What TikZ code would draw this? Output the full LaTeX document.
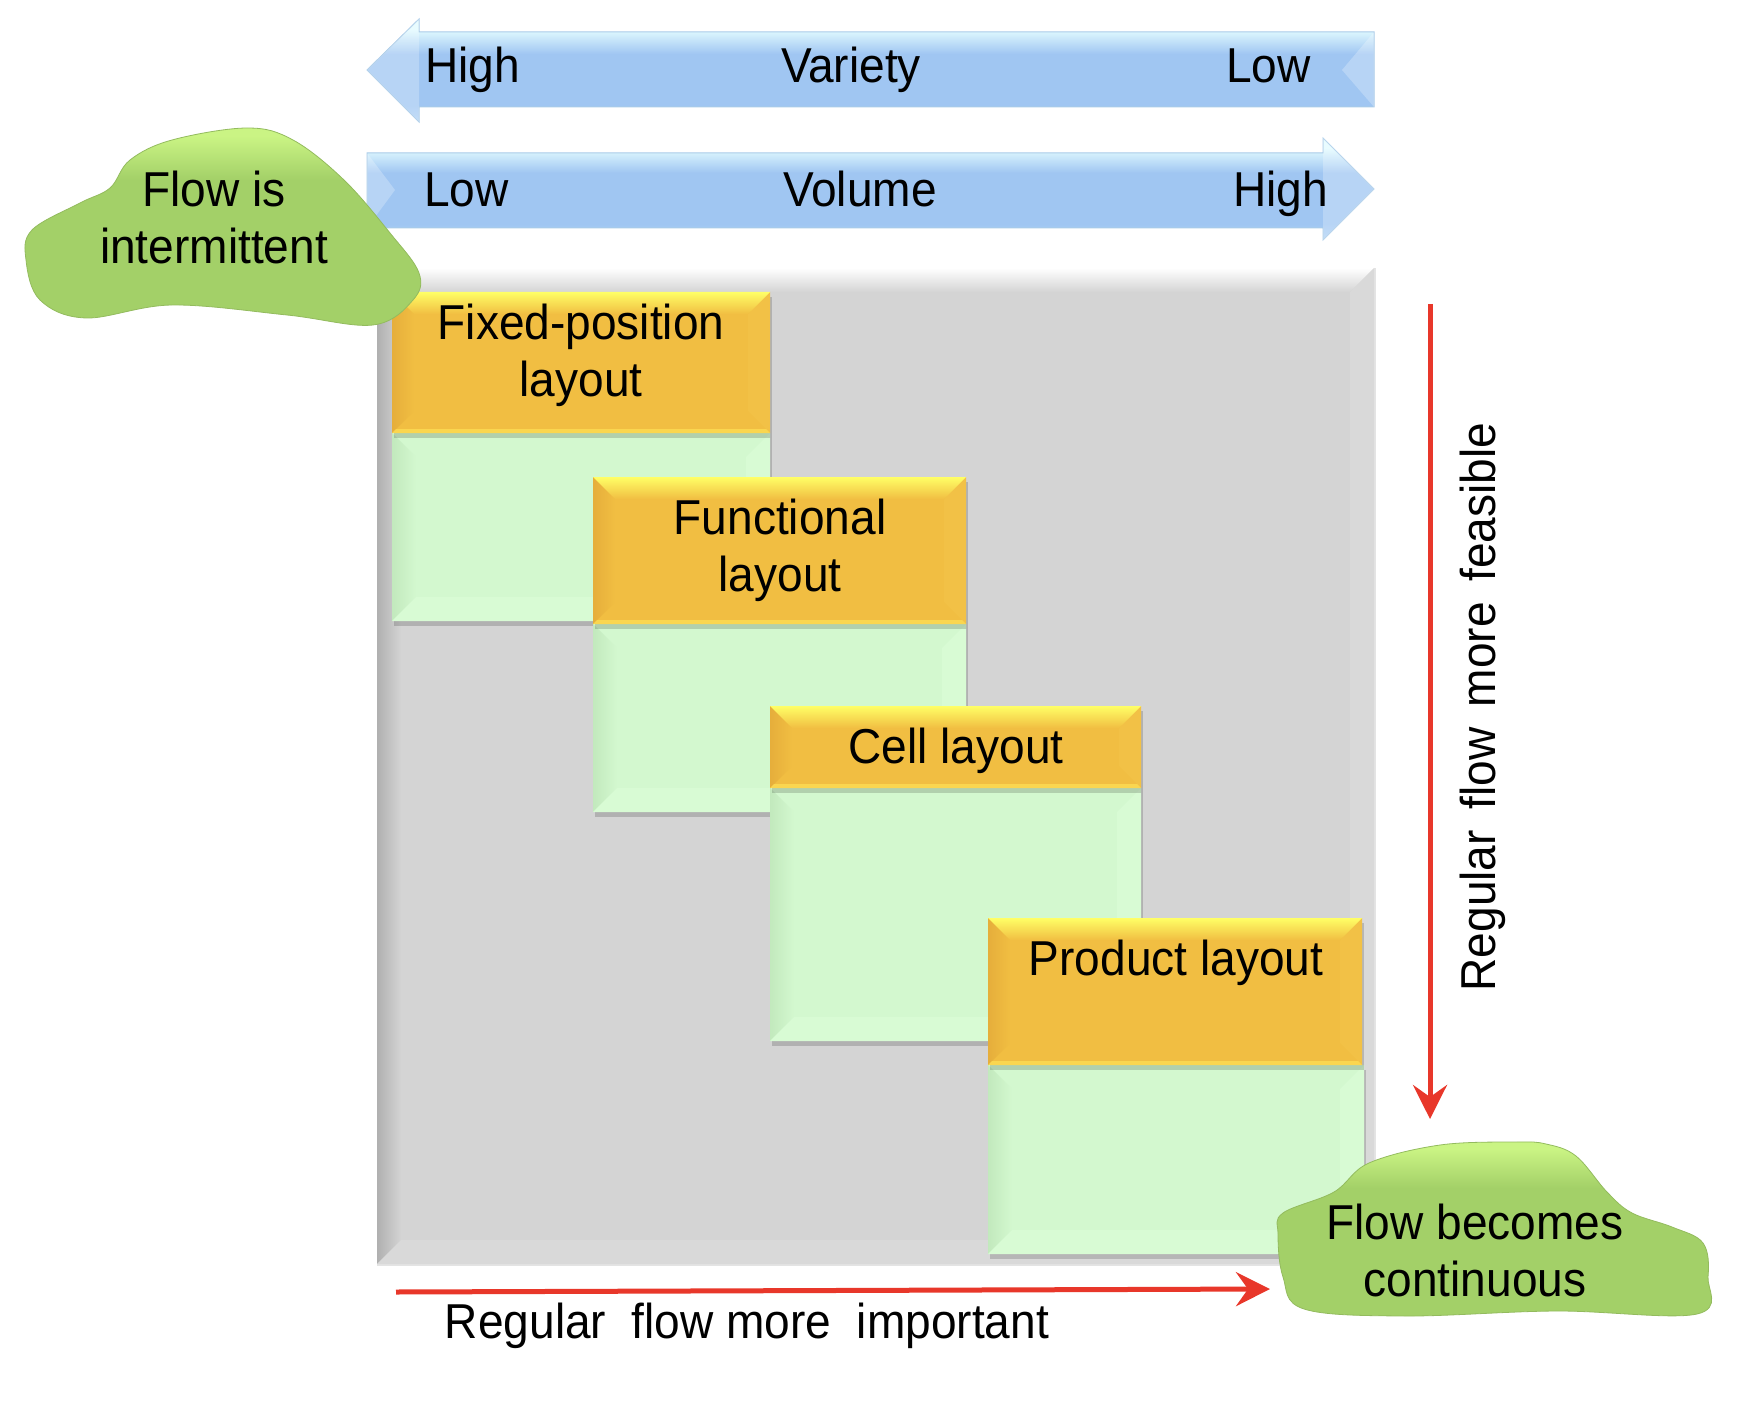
\documentclass[tikz,border=0pt]{standalone}
\usepackage{fontspec}
\setmainfont{Liberation Sans}[FakeStretch=0.94]
\usetikzlibrary{arrows.meta,shadows}
\definecolor{arrT}{HTML}{E2FBFF}
\definecolor{arrM}{HTML}{A0C6F2}
\definecolor{arrB}{HTML}{B0D3F6}
\definecolor{arrEdge}{HTML}{A9CBE8}
\definecolor{grayMain}{HTML}{D4D4D4}
\definecolor{grayDark}{HTML}{B0B0B0}
\definecolor{grayLight}{HTML}{D9D9D9}
\definecolor{grayEdge}{HTML}{E4E4E4}
\definecolor{ornMain}{HTML}{F1BE42}
\definecolor{ornTop}{HTML}{FFFF66}
\definecolor{ornLeft}{HTML}{E6AE3B}
\definecolor{ornRight}{HTML}{F2C146}
\definecolor{ornBot}{HTML}{FAD650}
\definecolor{grnMain}{HTML}{D3F8CF}
\definecolor{grnLeft}{HTML}{C2E9BD}
\definecolor{grnLight}{HTML}{D8FBD4}
\definecolor{cloudTop}{HTML}{CAF484}
\definecolor{cloudMain}{HTML}{A3D068}
\definecolor{redC}{HTML}{E8372A}
\pgfdeclareverticalshading{blueband}{100bp}{color(0bp)=(arrB); color(25bp)=(arrB); color(33bp)=(arrM); color(58bp)=(arrM); color(70bp)=(arrT); color(75bp)=(arrT); color(100bp)=(arrT)}
\pgfdeclareverticalshading{cloudband}{100bp}{color(0bp)=(cloudMain); color(25bp)=(cloudMain); color(62bp)=(cloudMain); color(73bp)=(cloudTop); color(100bp)=(cloudTop)}
\newcommand\orangebevel[4]{%
  \shade[left color=ornLeft, right color=ornMain] (#1,#2) -- (#1+22,#2+22) -- (#1+22,#4-22) -- (#1,#4) -- cycle;
  \fill[ornRight] (#3,#2) -- (#3-22,#2+22) -- (#3-22,#4-22) -- (#3,#4) -- cycle;
  \shade[top color=ornTop, bottom color=ornMain] (#1,#2) -- (#3,#2) -- (#3-22,#2+22) -- (#1+22,#2+22) -- cycle;
  \fill[ornBot] (#1,#4) -- (#1+4,#4-4) -- (#3-4,#4-4) -- (#3,#4) -- cycle;
}
\newcommand\greenbevel[4]{%
  \shade[left color=grnLeft, right color=grnMain] (#1,#2) -- (#1+24,#2+24) -- (#1+24,#4-24) -- (#1,#4) -- cycle;
  \fill[grnLight] (#3,#2) -- (#3-24,#2+24) -- (#3-24,#4-24) -- (#3,#4) -- cycle;
  \fill[grnLight] (#1,#4) -- (#1+24,#4-24) -- (#3-24,#4-24) -- (#3,#4) -- cycle;
}
\begin{document}
\begin{tikzpicture}[x=1pt,y=-1pt,
  lbl/.style={font=\fontsize{49}{57}\selectfont, align=center, inner sep=0pt, text=black},
  graybox/.style={fill=grayMain, draw=grayEdge, line width=1.5pt, anchor=north west, inner sep=0pt},
  hdr/.style={fill=ornMain, draw=none, anchor=north west, inner sep=0pt,
    drop shadow={shadow xshift=2pt, shadow yshift=-5pt, opacity=0.16, fill=black}},
  body/.style={fill=grnMain, draw=none, anchor=north west, inner sep=0pt,
    drop shadow={shadow xshift=2pt, shadow yshift=-5pt, opacity=0.16, fill=black}},
  bluearrow/.style={shading=blueband, draw=arrEdge, line width=1pt},
  cloudshape/.style={shading=cloudband, draw=cloudMain!90!black, line width=0.8pt},
  redarrow/.style={draw=redC, line width=5pt, -{Stealth[length=34pt, width=34pt, inset=12pt]}}
]
\useasboundingbox (0,0) rectangle (1740,1404);

% ---------- blue axis arrows ----------
\shade[bluearrow] (367,70) -- (419,19) -- (419,32) -- (1374,32) -- (1374,107) -- (419,107) -- (419,122) -- cycle;
\fill[white, opacity=0.25] (1374,32) -- (1342,70) -- (1374,107) -- cycle;
\fill[white, opacity=0.25] (367,70) -- (419,19) -- (419,122) -- cycle;
\shade[bluearrow] (367,153) -- (1323,153) -- (1323,138) -- (1374,189) -- (1323,240) -- (1323,228) -- (367,228) -- cycle;
\fill[white, opacity=0.25] (367,153) -- (395,190) -- (367,228) -- cycle;
\fill[white, opacity=0.25] (1323,138) -- (1374,189) -- (1323,240) -- cycle;

\node[lbl, anchor=base west] (hiV) at (425,83) {High};
\node[lbl, anchor=base] (variety) at (851,83) {Variety};
\node[lbl, anchor=base east] (loV) at (1311,83) {Low};
\node[lbl, anchor=base west] (loVol) at (424,207) {Low};
\node[lbl, anchor=base] (volume) at (860,207) {Volume};
\node[lbl, anchor=base east] (hiVol) at (1328,207) {High};

% ---------- gray field ----------
\node[graybox, minimum width=997pt, minimum height=996pt] (grid) at (377,268) {};
\shade[top color=white, bottom color=grayMain] (377,268) -- (1374,268) -- (1350,292) -- (401,292) -- cycle;
\shade[left color=grayDark, right color=grayMain] (377,268) -- (401,292) -- (401,1240) -- (377,1264) -- cycle;
\fill[grayLight] (1374,268) -- (1350,292) -- (1350,1240) -- (1374,1264) -- cycle;
\fill[grayLight] (377,1264) -- (401,1240) -- (1350,1240) -- (1374,1264) -- cycle;

% ---------- layout boxes ----------
\node[body, minimum width=378pt, minimum height=188pt] (fixG) at (392,433) {};
\greenbevel{392}{433}{770}{621}
\node[hdr, minimum width=378pt, minimum height=141pt] (fixH) at (392,292) {};
\orangebevel{392}{292}{770}{433}

\node[body, minimum width=373pt, minimum height=188pt] (funG) at (593,624) {};
\greenbevel{593}{624}{966}{812}
\node[hdr, minimum width=373pt, minimum height=147pt] (funH) at (593,477) {};
\orangebevel{593}{477}{966}{624}

\node[body, minimum width=371pt, minimum height=253pt] (celG) at (770,788) {};
\greenbevel{770}{788}{1141}{1041}
\node[hdr, minimum width=371pt, minimum height=82pt] (celH) at (770,706) {};
\orangebevel{770}{706}{1141}{788}

\node[body, minimum width=376pt, minimum height=189pt] (proG) at (988,1065) {};
\greenbevel{988}{1065}{1364}{1254}
\node[hdr, minimum width=374pt, minimum height=147pt] (proH) at (988,918) {};
\orangebevel{988}{918}{1362}{1065}

\node[lbl] (fixT) at (581,355) {Fixed-position\\layout};
\node[lbl] (funT) at (780,550) {Functional\\layout};
\node[lbl, anchor=base] (celT) at (956,763) {Cell layout};
\node[lbl, anchor=base] (proT) at (1176,975) {Product layout};

% ---------- red arrows ----------
\coordinate (vTop) at (1430,304);
\coordinate (vEnd) at (1430,1119);
\draw[redarrow] (vTop) -- (vEnd);
\coordinate (hStart) at (396,1292);
\coordinate (hEnd) at (1270,1289);
\draw[redarrow] (hStart) -- (hEnd);
\node[lbl, anchor=base, rotate=90] (feasT) at (1495,707) {Regular\hspace{0.42em}flow\hspace{0.42em}more\hspace{0.42em}feasible};
\node[lbl, anchor=base] (impT) at (747,1338) {Regular\ \ flow more\ \ important};

% ---------- clouds ----------
\shade[cloudshape] plot[smooth cycle, tension=0.6] coordinates {(247,128) (293,140) (344,180) (390,233) (419,273) (413,300) (373,325) (287,315) (172,305) (86,318) (40,300) (26,260) (32,230) (80,203) (110,188) (130,160) (172,140)};
\node[lbl] (intT) at (214,217) {Flow is\\intermittent};

\shade[cloudshape] plot[smooth cycle, tension=0.6] coordinates {(1516,1142) (1546,1144) (1576,1156) (1607,1192) (1632,1213) (1672,1227) (1703,1243) (1708,1277) (1697,1314) (1556,1311) (1405,1316) (1304,1309) (1283,1277) (1278,1234) (1283,1213) (1334,1192) (1369,1163) (1440,1145)};
\node[lbl] (conT) at (1475,1250) {Flow becomes\\continuous};
\end{tikzpicture}
\end{document}
